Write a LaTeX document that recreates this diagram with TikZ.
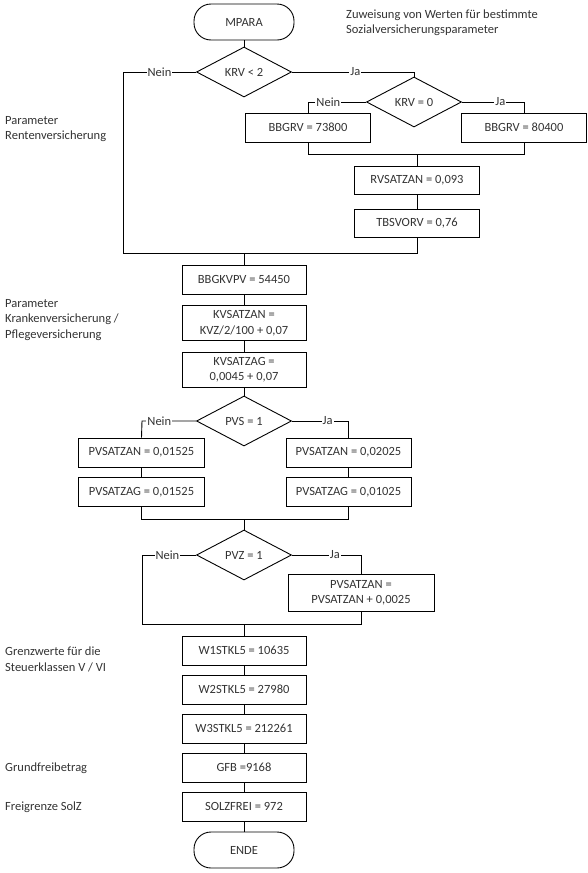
\documentclass[tikz,border=0pt]{standalone}
\usepackage{fontspec}
\setmainfont{Carlito}
\usetikzlibrary{shapes.geometric}
\begin{document}
\begin{tikzpicture}[x=1pt,y=-1pt,
  every node/.style={font=\fontsize{12.5}{15.5}\selectfont, text=black!80},
  conn/.style={draw=black, line width=0.9pt},
  stepbox/.style={draw=black, line width=0.9pt, rectangle, inner sep=0pt, minimum width=124pt, minimum height=29pt, align=center},
  decision/.style={draw=black, line width=0.9pt, diamond, aspect=1.9, inner sep=0pt, minimum width=95pt, minimum height=50pt},
  terminal/.style={draw=black, line width=0.9pt, rectangle, rounded corners=17pt, minimum width=100pt, minimum height=36pt, inner sep=0pt},
  lbl/.style={fill=white, inner sep=1pt},
  side/.style={anchor=west, align=left, inner sep=0pt}]
\useasboundingbox (0,0) rectangle (588,873);

% nodes
\node[terminal] (start) at (244,22) {MPARA};
\node[side] (note) at (346,22.5) {Zuweisung von Werten für bestimmte\\Sozialversicherungsparameter};
\node[decision] (d1) at (244,72) {KRV < 2};
\node[decision] (d2) at (414,102) {KRV = 0};
\node[stepbox, minimum width=125pt] (b1) at (308,127.5) {BBGRV = 73800};
\node[stepbox, minimum width=125pt] (b2) at (524,127.5) {BBGRV = 80400};
\node[stepbox, minimum width=125pt, minimum height=28pt] (b3) at (417,180.5) {RVSATZAN = 0,093};
\node[stepbox, minimum width=125pt, minimum height=28pt] (b4) at (417,223) {TBSVORV = 0,76};
\node[stepbox] (b5) at (244,279.5) {BBGKVPV = 54450};
\node[stepbox, minimum height=35pt] (b6) at (244,323) {KVSATZAN =\\KVZ/2/100 + 0,07};
\node[stepbox, minimum height=35pt] (b7) at (244,369.5) {KVSATZAG =\\0,0045 + 0,07};
\node[decision] (d3) at (244,421) {PVS = 1};
\node[stepbox, minimum width=126pt] (b8) at (141.5,452.5) {PVSATZAN = 0,01525};
\node[stepbox, minimum width=126pt] (b9) at (141.5,492) {PVSATZAG = 0,01525};
\node[stepbox, minimum width=125pt] (b10) at (348.5,452.5) {PVSATZAN = 0,02025};
\node[stepbox, minimum width=125pt] (b11) at (348.5,492) {PVSATZAG = 0,01025};
\node[decision] (d4) at (244,555) {PVZ = 1};
\node[stepbox, minimum width=146pt, minimum height=37pt] (b12) at (361,592.5) {PVSATZAN =\\PVSATZAN + 0,0025};
\node[stepbox] (b13) at (244,650.5) {W1STKL5 = 10635};
\node[stepbox] (b14) at (244,689.5) {W2STKL5 = 27980};
\node[stepbox] (b15) at (244,728.5) {W3STKL5 = 212261};
\node[stepbox] (b16) at (244,767.5) {GFB =9168};
\node[stepbox] (b17) at (244,806.5) {SOLZFREI = 972};
\node[terminal] (end) at (244,850) {ENDE};

% side texts
\node[side] (t1) at (5,129) {Parameter\\Rentenversicherung};
\node[side] (t2) at (5,320) {Parameter\\Krankenversicherung /\\Pflegeversicherung};
\node[side] (t3) at (5,659.5) {Grenzwerte für die\\Steuerklassen V / VI};
\node[side] (t4) at (5,768) {Grundfreibetrag};
\node[side] (t5) at (5,807) {Freigrenze SolZ};

% coordinates
\coordinate (n1) at (123,72);
\coordinate (y1) at (414,72);
\coordinate (n2) at (308,102);
\coordinate (y2) at (524,102);
\coordinate (j1) at (417,154);
\coordinate (j2) at (244,253);
\coordinate (n3) at (142,421);
\coordinate (y3) at (348.5,421);
\coordinate (j3) at (244,519);
\coordinate (n4) at (142,555);
\coordinate (y4) at (361,555);
\coordinate (j4) at (244,624);

% connectors
\draw[conn] (start) -- (d1);
\draw[conn] (d1.west) -- node[lbl, pos=0.5]{Nein} (n1) |- (j2);
\draw[conn] (d1.east) -- node[lbl, pos=0.52]{Ja} (y1) -- (d2.north);
\draw[conn] (d2.west) -- node[lbl, pos=0.65]{Nein} (n2) -- (b1.north);
\draw[conn] (d2.east) -- node[lbl, pos=0.62]{Ja} (y2) -- (b2.north);
\draw[conn] (b1.south) |- (j1);
\draw[conn] (b2.south) |- (j1);
\draw[conn] (j1) -- (b3.north);
\draw[conn] (b3) -- (b4);
\draw[conn] (b4.south) |- (j2);
\draw[conn] (j2) -- (b5.north);
\draw[conn] (b5) -- (b6);
\draw[conn] (b6) -- (b7);
\draw[conn] (b7) -- (d3);
\draw[conn] (d3.west) -- node[lbl, pos=0.68]{Nein} (n3) -- (b8.north);
\draw[conn] (d3.east) -- node[lbl, pos=0.63]{Ja} (y3) -- (b10.north);
\draw[conn] (b8) -- (b9);
\draw[conn] (b10) -- (b11);
\draw[conn] (b9.south) |- (j3);
\draw[conn] (b11.south) |- (j3);
\draw[conn] (j3) -- (d4.north);
\draw[conn] (d4.west) -- node[lbl, pos=0.53]{Nein} (n4) |- (j4);
\draw[conn] (d4.east) -- node[lbl, pos=0.62]{Ja} (y4) -- (b12.north);
\draw[conn] (b12.south) |- (j4);
\draw[conn] (j4) -- (b13.north);
\draw[conn] (b13) -- (b14);
\draw[conn] (b14) -- (b15);
\draw[conn] (b15) -- (b16);
\draw[conn] (b16) -- (b17);
\draw[conn] (b17) -- (end);
\end{tikzpicture}
\end{document}
